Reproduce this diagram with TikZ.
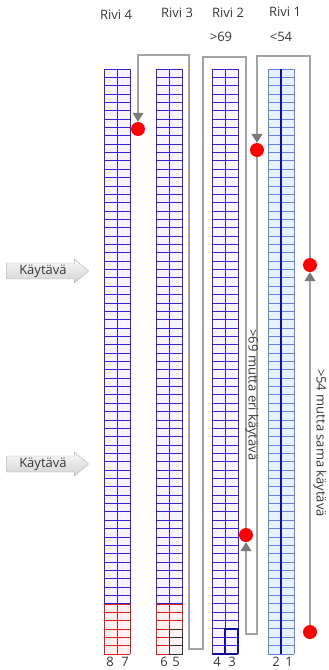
\documentclass[tikz,border=0pt]{standalone}
\usepackage{fontspec}
\setmainfont{Open Sans}
\usetikzlibrary{shapes.arrows,arrows.meta}

\definecolor{rackblue}{HTML}{3626CC}
\definecolor{rackfill}{HTML}{F7F4FF}
\definecolor{lightrack}{HTML}{6680E6}
\definecolor{lightfill}{HTML}{E6F2FD}
\definecolor{darkblue}{HTML}{10109A}
\definecolor{routegray}{HTML}{A4A4A4}
\definecolor{tipgray}{HTML}{7A7A7A}
\definecolor{redcell}{HTML}{E01E1E}
\definecolor{redfill}{HTML}{FFF2F2}
\definecolor{textgray}{HTML}{383838}

\begin{document}
\begin{tikzpicture}[x=1pt,y=-1pt,
    route/.style={draw=routegray,line width=1.1pt},
    to stop/.style={route,-{Triangle[length=9pt,width=11pt,color=tipgray]}},
    stopdot/.style={circle,fill=red,inner sep=0pt,minimum size=14pt},
    rowtext/.style={font=\fontsize{13}{15}\selectfont,text=textgray},
    colnum/.style={font=\fontsize{13}{15}\selectfont,text=textgray},
    aisle/.style={single arrow,draw=gray!60,top color=gray!5,bottom color=gray!35,
        single arrow head extend=4pt,single arrow tip angle=80,inner xsep=3pt,inner ysep=1.5pt,
        minimum height=82pt,font=\fontsize{13}{15}\selectfont,text=textgray}]

  \useasboundingbox (0,0) rectangle (329,670);

  % racks: 70 rows of two columns
  \foreach \x/\ln/\bk in {104/rackblue/rackfill,156/rackblue/rackfill,
                          212/rackblue/rackfill,268/lightrack/lightfill}{
    \fill[\bk] (\x,69) rectangle ++(26,585);
    \foreach \r in {0,...,70}
      \draw[\ln,line width=0.9pt] (\x,69+\r*8.357) -- ++(26,0);
    \foreach \c in {0,13,26}
      \draw[\ln,line width=0.9pt] (\x+\c,69) -- ++(0,585);
  }

  % red end of rivi 4 and rivi 3
  \foreach \x in {104,156}{
    \fill[redfill] (\x,604) rectangle ++(26,50);
    \foreach \r in {0,...,6}
      \draw[redcell,line width=1pt] (\x,604+\r*8.357) -- ++(26,0);
    \foreach \c in {0,13,26}
      \draw[redcell,line width=1pt] (\x+\c,604) -- ++(0,50);
  }
  \draw[black!80,line width=1pt] (169,629) rectangle (182,654)
    (169,637.4) -- ++(13,0) (169,645.7) -- ++(13,0);

  % rivi 2 end and rivi 1 middle
  \draw[darkblue,line width=1.3pt] (212,654) -- ++(26,0);
  \draw[darkblue,line width=1.2pt] (225,654) |- (238,629) -- (238,654);
  \draw[darkblue,line width=1.3pt] (281,69) -- (281,654);

  % titles
  \node[rowtext] (riv4) at (116,15) {Rivi 4};
  \node[rowtext] (riv3) at (177,13) {Rivi 3};
  \node[rowtext] (riv2) at (228,13) {Rivi 2};
  \node[rowtext] (riv1) at (285,12) {Rivi 1};
  \node[rowtext] (lim2) at (221,37) {>69};
  \node[rowtext] (lim1) at (281,37) {<54};

  % column numbers
  \foreach \n/\x in {8/110,7/125,6/164,5/176,4/217,3/232,2/276,1/289}
    \node[colnum] (c\n) at (\x,662) {\n};

  % aisles
  \node[aisle,anchor=tip] (kay1) at (89,271) {Käytävä};
  \node[aisle,anchor=tip] (kay2) at (89,464) {Käytävä};

  % stops
  \node[stopdot] (d1) at (138,129) {};
  \node[stopdot] (d2) at (257,150) {};
  \node[stopdot] (d3) at (310,265) {};
  \node[stopdot] (d4) at (246,535) {};
  \node[stopdot] (d5) at (310,632) {};

  % route between the stops
  \draw[to stop] (d5) -- (d3);
  \draw[to stop] (d3) -- (310,56) -| (d2);
  \draw[to stop] (d2) -- (257,634) -| (d4);
  \draw[to stop] (d4) -- (246,57) -| (203,649) -| (189,55) -| (d1);

  \node[rowtext,rotate=-90] (eri) at (252,395) {>69 mutta eri käytävä};
  \node[rowtext,rotate=-90] (sama) at (320,443) {>54 mutta sama käytävä};

\end{tikzpicture}
\end{document}
